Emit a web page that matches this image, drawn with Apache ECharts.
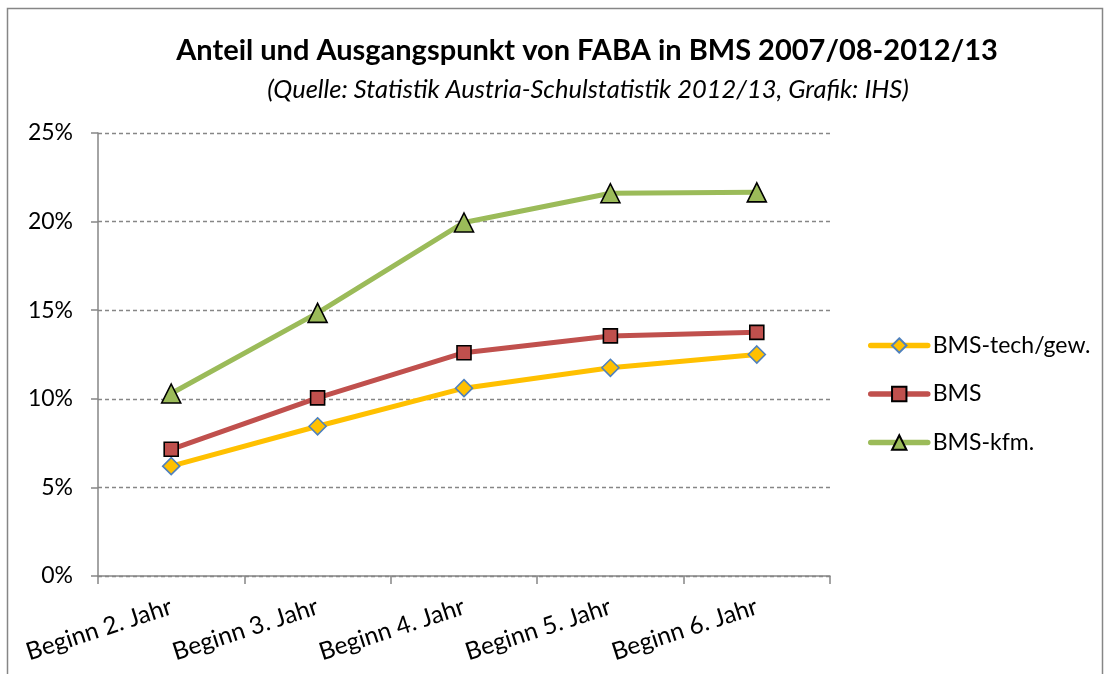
<!DOCTYPE html>
<html><head><meta charset="utf-8">
<script src="https://cdn.jsdelivr.net/npm/echarts@6/dist/echarts.min.js"></script>
<style>html,body{margin:0;padding:0;background:#fff}#c{width:1109px;height:674px}</style>
</head><body><div id="c"></div>
<script>
const categories = ['Beginn 2. Jahr','Beginn 3. Jahr','Beginn 4. Jahr','Beginn 5. Jahr','Beginn 6. Jahr'];
const techGew = [6.2, 8.45, 10.6, 11.75, 12.5];
const bms = [7.15, 10.05, 12.6, 13.55, 13.75];
const kfm = [10.3, 14.85, 19.95, 21.6, 21.65];
const yTicks = [0,5,10,15,20,25];

const font = 'Lato, "Open Sans", sans-serif';
const chart = echarts.init(document.getElementById('c'));
function ser(name, data, color, symbol, mColor, mBorder, size){
  return {name, type:'line', data, symbol, symbolSize:size,
    lineStyle:{color, width:5}, itemStyle:{color:mColor, borderColor:mBorder, borderWidth:1.6},
    emphasis:{disabled:true}};
}
chart.setOption({
  animation:false,
  title:[{text:'Anteil und Ausgangspunkt von FABA in BMS 2007/08-2012/13', left:582, top:31, textAlign:'center',
    textStyle:{fontFamily:font, fontWeight:'bold', fontSize:29, color:'#000'}},
    {text:'(Quelle: Statistik Austria-Schulstatistik 2012/13, Grafik: IHS)', left:583, top:72, textAlign:'center',
    textStyle:{fontFamily:font, fontStyle:'italic', fontWeight:'normal', fontSize:25.5, color:'#000'}}],
  grid:{left:98, right:279, top:133, bottom:98},
  legend:{orient:'vertical', left:868, top:333, padding:0, itemGap:23.5, itemWidth:57, itemHeight:18,
    lineStyle:{width:5.5, cap:'round'},
    textStyle:{fontFamily:font, fontSize:23, color:'#000', lineHeight:25},
    data:['BMS-tech/gew.','BMS','BMS-kfm.']},
  xAxis:{type:'category', data:categories, boundaryGap:true,
    axisLine:{lineStyle:{color:'#868686', width:1.5}},
    axisTick:{show:true, length:8, lineStyle:{color:'#868686', width:1.5}},
    axisLabel:{rotate:18, fontFamily:font, fontSize:24.5, color:'#000', margin:30, align:'right', verticalAlign:'middle'}},
  yAxis:{type:'value', min:0, max:25, interval:5,
    axisLine:{show:true, lineStyle:{color:'#868686', width:1.5}},
    axisTick:{show:true, length:7, lineStyle:{color:'#868686', width:1.5}},
    axisLabel:{fontFamily:font, fontSize:23, color:'#000', margin:25, formatter: v => yTicks.includes(v) ? v + '%' : ''},
    splitLine:{lineStyle:{color:'#868686', type:[4,3], width:1.3}}},
  series:[
    ser('BMS-tech/gew.', techGew, '#FFC000', 'diamond', '#FFC000', '#4F81BD', 17),
    ser('BMS', bms, '#C0504D', 'rect', '#C0504D', '#000', 14),
    ser('BMS-kfm.', kfm, '#9BBB59', 'triangle', '#9BBB59', '#000', 19)
  ],
  graphic:[{type:'rect', shape:{x:7.5,y:8.5,width:1095,height:680}, style:{fill:'none', stroke:'#868686', lineWidth:1.5}, silent:true}]
});
</script></body></html>
